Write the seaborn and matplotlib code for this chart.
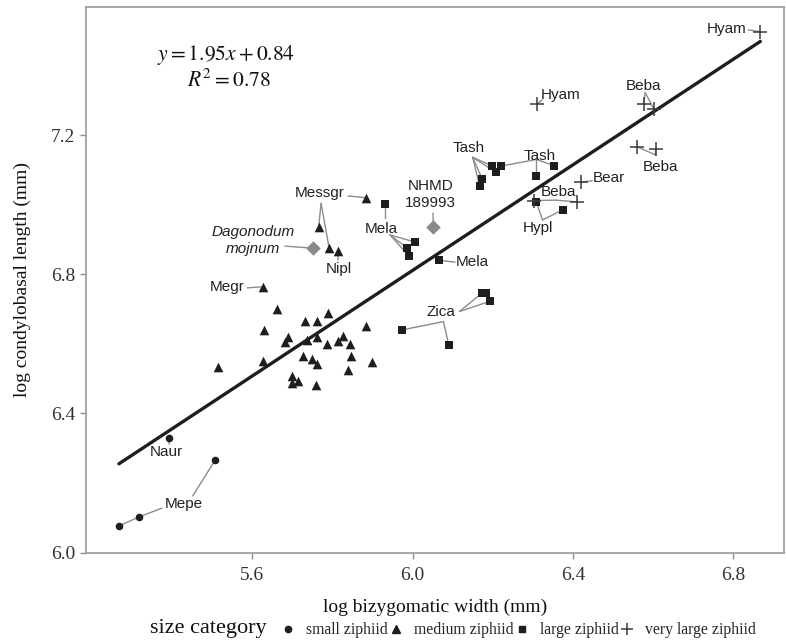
import matplotlib
matplotlib.use("Agg")
import matplotlib.pyplot as plt
from matplotlib.lines import Line2D
import seaborn as sns
import pandas as pd
import numpy as np

# ---------------- data ----------------
small_x = [5.394, 5.268, 5.319, 5.508]
small_y = [6.330, 6.077, 6.103, 6.266]

medium_x = [5.884, 5.766, 5.792, 5.815, 5.626,
            5.663, 5.790, 5.731, 5.763, 5.884, 5.630, 5.689, 5.683, 5.736, 5.763,
            5.815, 5.826, 5.786, 5.844, 5.847, 5.728, 5.749, 5.763, 5.898, 5.628,
            5.516, 5.838, 5.700, 5.715, 5.699, 5.759]
medium_y = [7.020, 6.937, 6.876, 6.868, 6.764,
            6.700, 6.690, 6.667, 6.666, 6.652, 6.640, 6.619, 6.606, 6.611, 6.619,
            6.609, 6.623, 6.599, 6.599, 6.565, 6.566, 6.556, 6.542, 6.549, 6.551,
            6.534, 6.525, 6.508, 6.494, 6.487, 6.481]

large_x = [5.932, 6.005, 5.986, 5.991, 6.067,
           6.199, 6.221, 6.208, 6.174, 6.167, 6.353, 6.309,
           6.309, 6.374,
           5.973, 6.172, 6.182, 6.192, 6.090]
large_y = [7.002, 6.893, 6.876, 6.853, 6.840,
           7.111, 7.111, 7.093, 7.073, 7.054, 7.112, 7.082,
           7.007, 6.985,
           6.640, 6.745, 6.745, 6.722, 6.598]

vlarge_x = [6.867, 6.310, 6.576, 6.602, 6.559, 6.606, 6.420, 6.304, 6.410]
vlarge_y = [7.497, 7.289, 7.289, 7.274, 7.167, 7.159, 7.064, 7.012, 7.008]

fossil_x = [5.751, 6.052]
fossil_y = [6.875, 6.937]

categories = ["small ziphiid", "medium ziphiid", "large ziphiid", "very large ziphiid"]

fit_slope = 0.759
fit_intercept = 2.257
fit_range = [5.268, 6.867]

# labels: text, x, y, italic
label_text = ["Hyam", "Hyam", "Beba", "Beba", "Bear", "Beba", "Hypl", "Tash", "Tash",
              "NHMD\n189993", "Mela", "Mela", "Zica", "Messgr", "Dagonodum\nmojnum",
              "Nipl", "Megr", "Naur", "Mepe"]
label_x = [6.784, 6.368, 6.576, 6.617, 6.490, 6.364, 6.312, 6.140, 6.316,
           6.044, 5.922, 6.150, 6.071, 5.768, 5.603, 5.815, 5.537, 5.387, 5.430]
label_y = [7.504, 7.315, 7.341, 7.107, 7.076, 7.035, 6.932, 7.162, 7.140,
           7.030, 6.930, 6.836, 6.691, 7.034, 6.897, 6.814, 6.764, 6.290, 6.140]
label_italic = [False] * 14 + [True] + [False] * 4

# leader segments: x0, y0, x1, y1
seg_x0 = [6.837, 6.323, 6.580, 6.580, 6.605, 6.605, 6.448, 6.358, 6.358, 6.324, 6.324,
          6.150, 6.150, 6.150, 6.150, 6.309, 6.309, 6.309, 6.051,
          5.932, 5.944, 5.944, 5.944, 6.106, 6.117, 6.117, 6.077, 6.077,
          5.839, 5.772, 5.772, 5.682, 5.814, 5.588, 5.393, 5.375, 5.319, 5.452]
seg_y0 = [7.502, 7.301, 7.322, 7.322, 7.143, 7.143, 7.069, 7.013, 7.013, 6.956, 6.956,
          7.136, 7.136, 7.136, 7.136, 7.130, 7.130, 7.130, 6.976,
          6.962, 6.913, 6.913, 6.913, 6.835, 6.693, 6.693, 6.664, 6.664,
          7.025, 7.004, 7.004, 6.881, 6.841, 6.761, 6.312, 6.128, 6.103, 6.163]
seg_x1 = [6.867, 6.310, 6.576, 6.602, 6.559, 6.606, 6.420, 6.304, 6.410, 6.309, 6.374,
          6.199, 6.208, 6.174, 6.167, 6.221, 6.353, 6.309, 6.052,
          5.932, 6.005, 5.986, 5.991, 6.067, 6.172, 6.192, 5.973, 6.090,
          5.884, 5.766, 5.792, 5.751, 5.815, 5.626, 5.394, 5.319, 5.268, 5.508]
seg_y1 = [7.497, 7.289, 7.289, 7.274, 7.167, 7.159, 7.064, 7.012, 7.008, 7.007, 6.985,
          7.111, 7.093, 7.073, 7.054, 7.111, 7.112, 7.082, 6.937,
          7.002, 6.893, 6.876, 6.853, 6.840, 6.745, 6.722, 6.640, 6.598,
          7.020, 6.937, 6.876, 6.875, 6.868, 6.764, 6.330, 6.103, 6.077, 6.266]

x_ticks = [5.6, 6.0, 6.4, 6.8]
y_ticks = [6.0, 6.4, 6.8, 7.2]

# ---------------- plot ----------------
sns.set_style("white")
plt.rcParams["mathtext.fontset"] = "stix"
SERIF = ["Liberation Serif", "DejaVu Serif"]
SANS = ["Liberation Sans", "DejaVu Sans"]

fig = plt.figure(figsize=(7.86, 6.41), dpi=100)
ax = fig.add_axes([86 / 786, 1 - 552.7 / 641, (784 - 86) / 786, (552.7 - 7) / 641])

dark = "#1e1e1e"
line_gray = "#8c8c8c"

# leader lines
for a, b, c, d in zip(seg_x0, seg_y0, seg_x1, seg_y1):
    ax.plot([a, c], [b, d], color=line_gray, lw=1.0, zorder=1)

# regression line
fx = np.array(fit_range)
fit_df = pd.DataFrame({"x": fx, "y": fit_slope * fx + fit_intercept})
sns.lineplot(data=fit_df, x="x", y="y", ax=ax, color=dark, lw=2.4, zorder=2)

df_s = pd.DataFrame({"x": small_x, "y": small_y})
df_m = pd.DataFrame({"x": medium_x, "y": medium_y})
df_l = pd.DataFrame({"x": large_x, "y": large_y})
df_v = pd.DataFrame({"x": vlarge_x, "y": vlarge_y})
df_f = pd.DataFrame({"x": fossil_x, "y": fossil_y})

sns.scatterplot(data=df_s, x="x", y="y", ax=ax, marker="o", s=30, color=dark,
                edgecolor=dark, linewidth=0, zorder=3)
sns.scatterplot(data=df_m, x="x", y="y", ax=ax, marker="^", s=48, color=dark,
                edgecolor=dark, linewidth=0, zorder=3)
sns.scatterplot(data=df_l, x="x", y="y", ax=ax, marker="s", s=32, color=dark,
                edgecolor=dark, linewidth=0, zorder=3)
sns.scatterplot(data=df_v, x="x", y="y", ax=ax, marker="+", s=90, color="#3a3a3a",
                linewidth=1.1, zorder=3)
sns.scatterplot(data=df_f, x="x", y="y", ax=ax, marker="D", s=55, color="#8a8a8a",
                edgecolor="#8a8a8a", linewidth=0, zorder=3)

for t, x, y, it in zip(label_text, label_x, label_y, label_italic):
    ax.text(x, y, t, ha="center", va="center", fontsize=11, family=SANS,
            style="italic" if it else "normal", color="#222222",
            linespacing=1.25, zorder=4)

# equation
ax.text(5.535, 7.430, r"$y = 1.95x + 0.84$", ha="center", va="center", fontsize=15.5,
        color="#111111")
ax.text(5.543, 7.358, r"$R^2 = 0.78$", ha="center", va="center", fontsize=15.5,
        color="#111111")

ax.set_xlim(5.186, 6.926)
ax.set_ylim(6.0, 7.568)
ax.set_xticks(x_ticks)
ax.set_yticks(y_ticks)
ax.set_xticklabels([f"{v:.1f}" for v in x_ticks], family=SERIF, fontsize=14, color="#333333")
ax.set_yticklabels([f"{v:.1f}" for v in y_ticks], family=SERIF, fontsize=14, color="#333333")
ax.tick_params(axis="x", which="major", pad=6)
ax.tick_params(axis="y", which="major", pad=4)
ax.tick_params(axis="both", which="major", length=4, width=1.0, color="#8c8c8c",
               direction="out", bottom=True, left=True)
for sp in ax.spines.values():
    sp.set_color("#9a9a9a")
    sp.set_linewidth(1.2)
ax.set_xlabel("log bizygomatic width (mm)", family=SERIF, fontsize=14, labelpad=11, color="#111111")
ax.set_ylabel("log condylobasal length (mm)", family=SERIF, fontsize=14, labelpad=14, color="#111111")

# legend
handles = [
    Line2D([], [], linestyle="none", marker="o", markersize=4.5, color=dark),
    Line2D([], [], linestyle="none", marker="^", markersize=6, color=dark),
    Line2D([], [], linestyle="none", marker="s", markersize=5, color=dark),
    Line2D([], [], linestyle="none", marker="+", markersize=9, color="#3a3a3a", markeredgewidth=1.1),
]
fig.legend(handles, categories, loc="center left", bbox_to_anchor=(268 / 786, 1 - 630 / 641),
           ncol=4, frameon=False, handletextpad=0.72, columnspacing=0.15, handlelength=0.8,
           borderpad=0.4, prop={"family": SERIF, "size": 11.3})
fig.text(208 / 786, 1 - 628 / 641, "size category", ha="center", va="center",
         family=SERIF, fontsize=16, color="#111111")

fig.savefig("out.png", dpi=100)
